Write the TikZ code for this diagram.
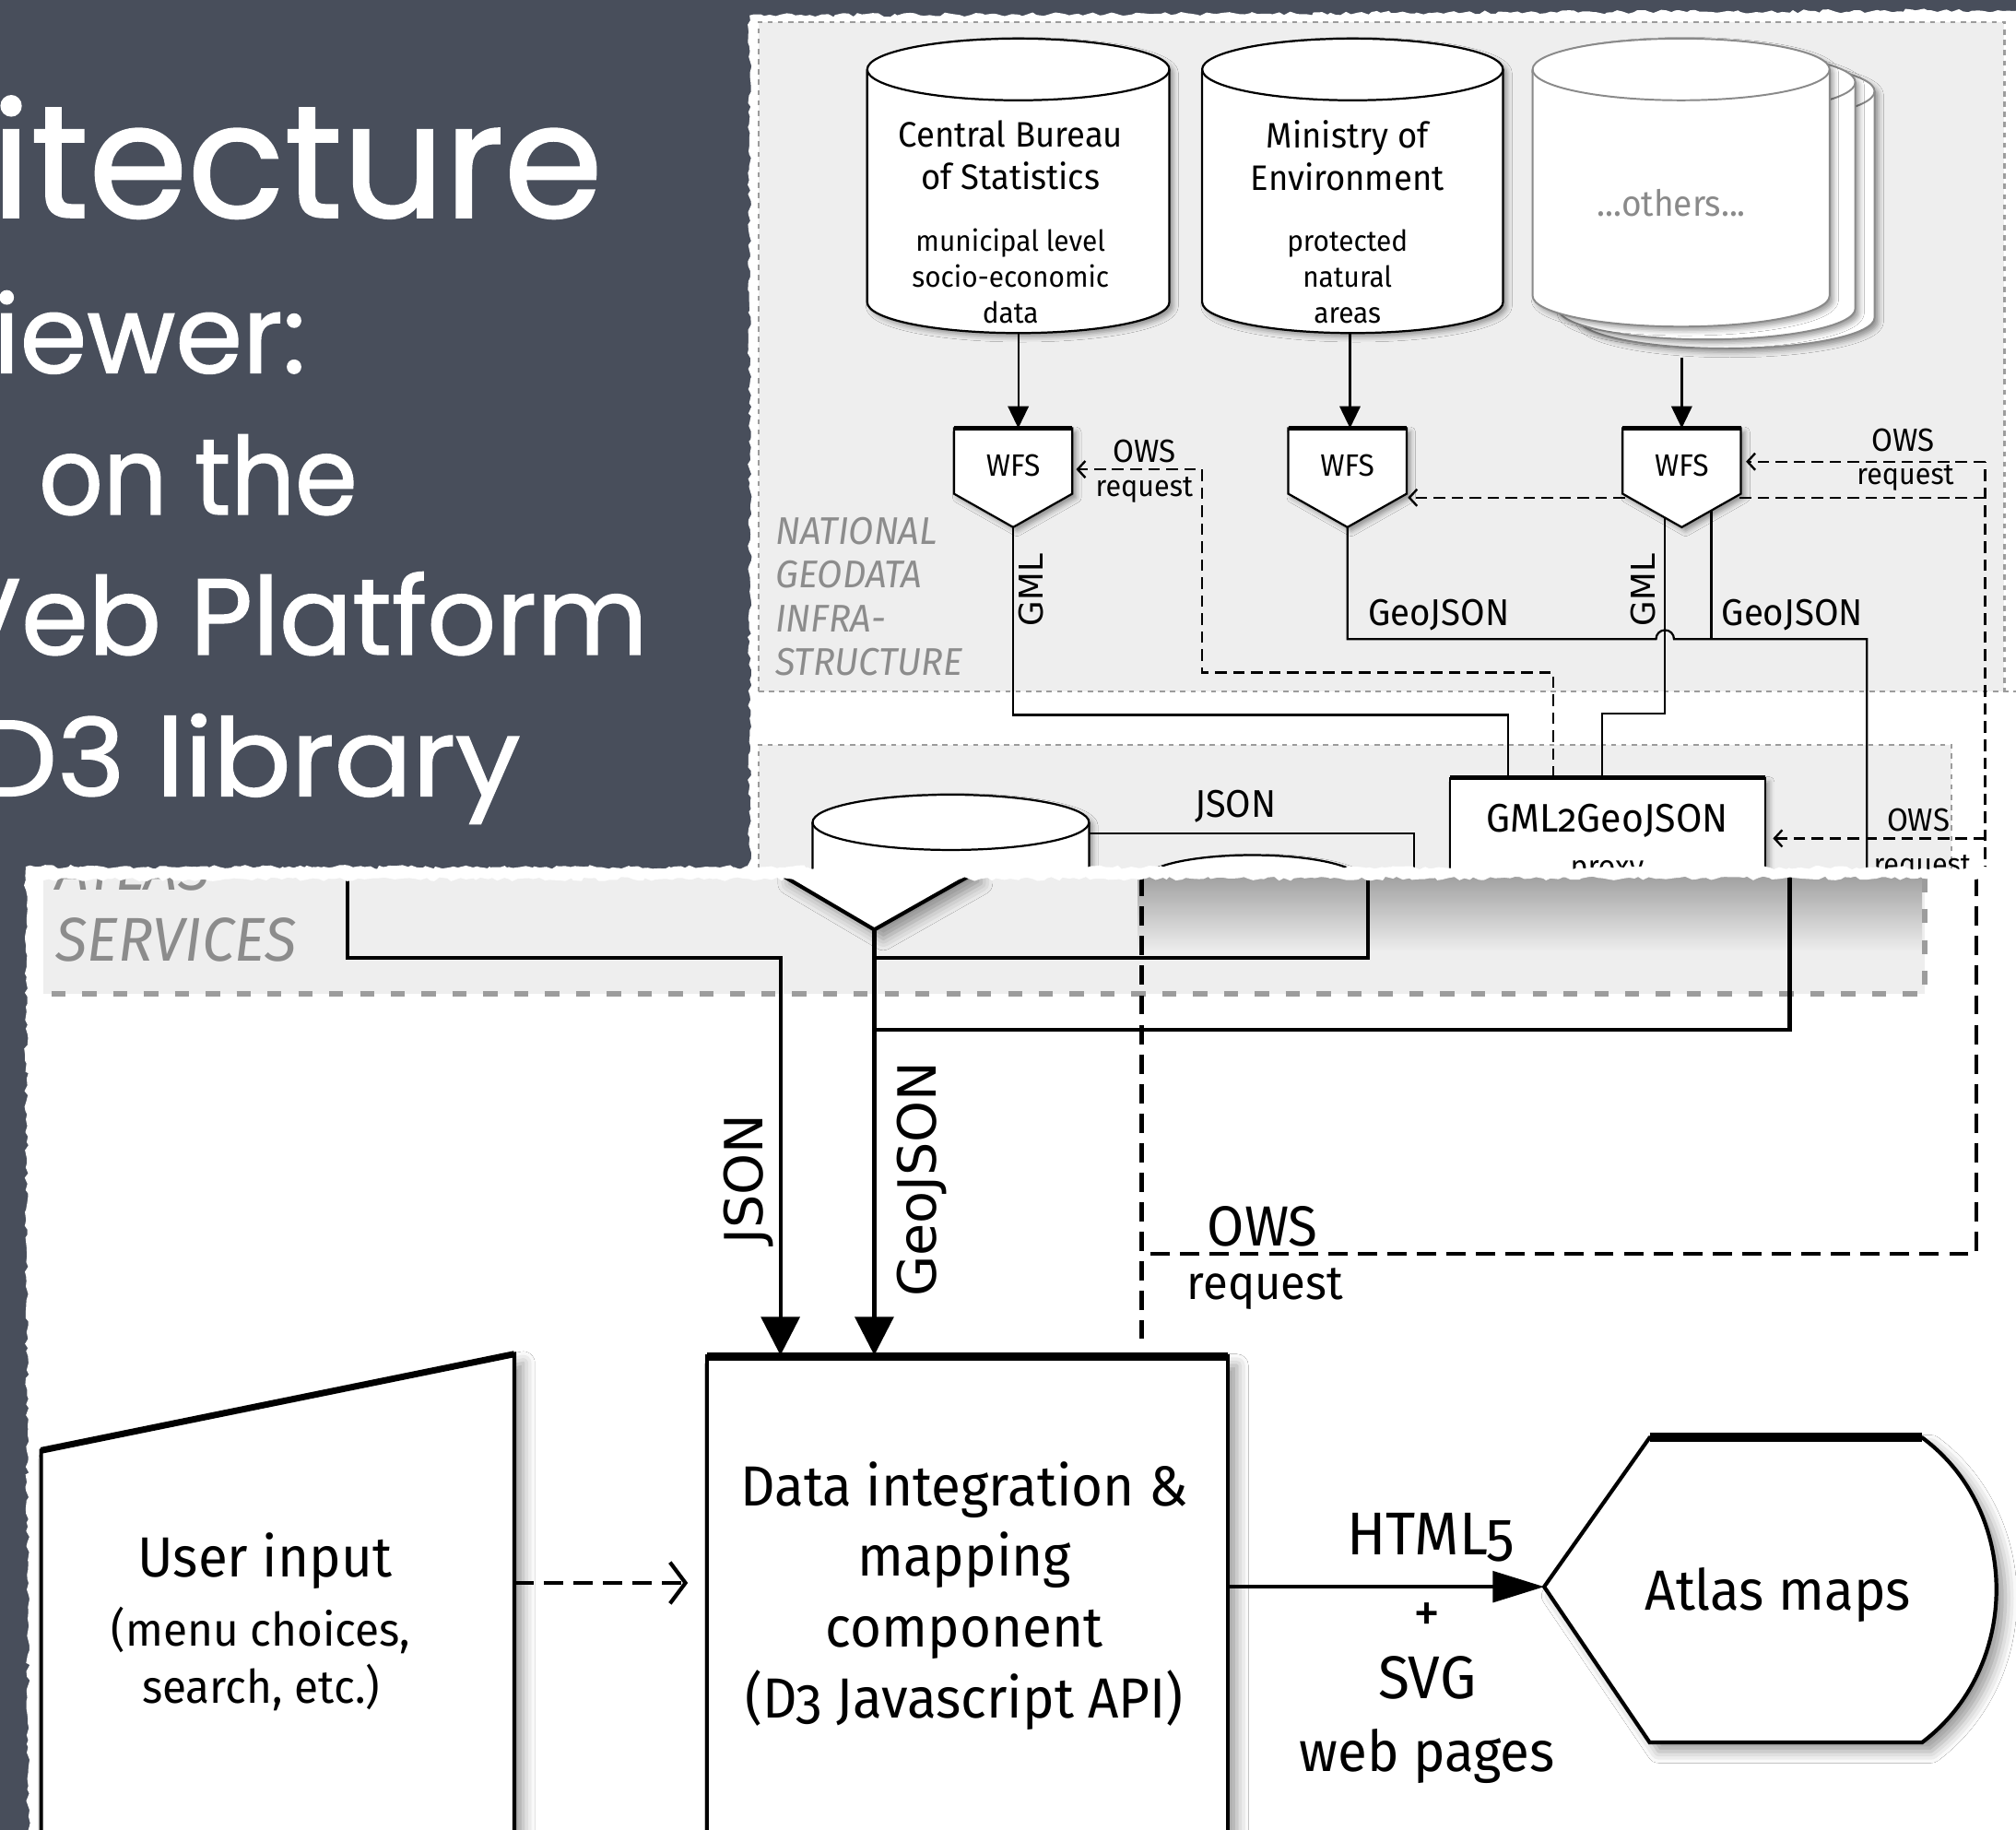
\documentclass[tikz,border=0pt]{standalone}
\usepackage{fontspec}
\setmainfont{Fira Sans}
\newfontfamily\chalk[FakeBold=1.2]{Poppins}
\newfontfamily\diag[FakeStretch=0.95,Numbers=OldStyle]{Fira Sans}
\newfontfamily\wide{DejaVu Sans}
\usetikzlibrary{arrows.meta,shadows.blur,decorations.pathmorphing}

\definecolor{slate}{HTML}{484E5B}
\definecolor{panel}{HTML}{EEEEEE}
\definecolor{rule}{HTML}{9C9C9C}
\definecolor{faint}{HTML}{8C8C8C}
\definecolor{ghost}{HTML}{8A8A8A}

\newcommand\fsz[2]{\fontsize{#1}{#2}\selectfont}

\tikzset{
  chalkline/.style={text=white, inner sep=0pt, font=\chalk\fsz{84}{90}},
  paper/.style={fill=white, decorate, decoration={random steps, segment length=4pt, amplitude=1.6pt}},
  lineA/.style={line width=1.6pt, draw=black},
  lineB/.style={line width=3pt, draw=black},
  owsA/.style={line width=1.7pt, dash pattern=on 9pt off 5pt},
  owsB/.style={line width=3pt, dash pattern=on 15pt off 8pt},
  dotbox/.style={draw=rule, line width=1.5pt, dash pattern=on 4pt off 4pt},
  dotboxB/.style={draw=rule, line width=4pt, dash pattern=on 11pt off 13pt},
  softA/.style={blur shadow={shadow xshift=3pt, shadow yshift=-3pt, shadow blur radius=4pt, shadow opacity=40}},
  softB/.style={blur shadow={shadow xshift=7pt, shadow yshift=-7pt, shadow blur radius=9pt, shadow opacity=40}},
  txtA/.style={inner sep=0pt, align=center, font=\diag\fsz{23}{26}},
  txtB/.style={inner sep=0pt, align=center, font=\diag\fsz{44}{55}},
  vlab/.style={inner sep=0pt, rotate=90},
  headA/.style={-{Triangle[length=17pt,width=16pt]}},
  headB/.style={-{Triangle[length=30pt,width=30pt]}},
  barbA/.style={-{Straight Barb[length=6pt,width=13pt,line width=1.7pt]}},
}

% database drum: centre x, top-ellipse y, bottom-ellipse y, x radius, y radius, colour, line width
\newcommand\drum[7]{%
  \filldraw[fill=white, draw=#6, line width=#7, softA]
    (#1-#4,#2) -- (#1-#4,#3)
    arc[start angle=180, end angle=0, x radius=#4, y radius=#5]
    -- (#1+#4,#2)
    arc[start angle=0, end angle=-180, x radius=#4, y radius=#5] -- cycle;
  \draw[draw=#6, line width=#7] (#1-#4,#2)
    arc[start angle=180, end angle=0, x radius=#4, y radius=#5];
}

% WFS service symbol: name, centre x
\newcommand\wfs[2]{%
  \filldraw[fill=white, lineA, softA] (#2-46,333) -- (#2+46,333) -- (#2+46,384)
    -- (#2,410) -- (#2-46,384) -- cycle;
  \draw[line width=3.4pt] (#2-46,333) -- (#2+46,333);
  \node[txtA, font=\diag\fsz{24}{26}] (#1) at (#2,362) {WFS};
  \coordinate (#1top) at (#2,333);
  \coordinate (#1tip) at (#2,410);
}

\begin{document}
\begin{tikzpicture}[x=1pt,y=-1pt]
\pgfmathsetseed{4711}
\useasboundingbox (0,0) rectangle (1568,1423);
\clip (0,0) rectangle (1568,1423);
\fill[slate] (0,0) rectangle (1568,1423);

% ---------- slide heading ----------
\node[chalkline, font=\chalk\fsz{124}{130}, anchor=base east] (head) at (469,169) {itecture};
\node[chalkline, anchor=base east] (sub1) at (238,290) {iewer:};
\node[chalkline, anchor=base west] (sub2) at (30,400) {\scalebox{0.93}[1]{on the}};
\node[chalkline, anchor=base east] (sub3) at (504,509) {Veb Platform};
\node[chalkline, anchor=base east] (sub4) at (405,619) {\scalebox{1.07}[1]{D3 library}};

% ---------- upper clipping: data infrastructure ----------
\fill[paper] (583,724) -- (583,12) -- (1575,8) -- (1575,724) -- cycle;
\begin{scope}
\clip (586,15) rectangle (1568,724);
\fill[panel] (590,17) rectangle (1559,538);
\fill[panel] (590,579) rectangle (1518,724);
\draw[dotbox] (590,538) -- (590,17) -- (1559,17) -- (1559,538);
\draw[dotbox] (590,538) -- (1568,538);
\draw[dotbox] (590,724) -- (590,579) -- (1518,579) -- (1518,724);

% OWS request paths
\coordinate (owsin) at (1208,605);
\coordinate (owsrail) at (1544,724);
\draw[owsA, barbA] (owsin) -- (1208,523) -- (935,523) -- (935,365) -- (837,365);
\draw[owsA] (owsrail) -- (1544,359);
\draw[owsA, barbA] (1544,359) -- (1358,359);
\draw[owsA, barbA] (1544,387) -- (1095,387);
\draw[owsA, barbA] (1544,652) -- (1379,652);

% data sources
\drum{1342.5}{71}{247}{115.5}{24}{ghost}{1.4pt}
\drum{1327.5}{64}{240}{115.5}{24}{ghost}{1.4pt}
\drum{1307.5}{54}{230}{115.5}{24}{ghost}{1.4pt}
\drum{792}{54}{235}{117.5}{24}{black}{1.6pt}
\drum{1052}{54}{235}{117}{24}{black}{1.6pt}

\node[txtA, font=\diag\fsz{27.5}{33}] (cbs) at (786,121) {Central Bureau\\of Statistics};
\node[txtA, font=\diag\fsz{22.5}{28}] (cbsdata) at (786,215) {municipal level\\socio-economic\\data};
\node[txtA, font=\diag\fsz{27.5}{33}] (moe) at (1048,121) {Ministry of\\Environment};
\node[txtA, font=\diag\fsz{22.5}{28}] (moedata) at (1048,215) {protected\\natural\\areas};
\node[txtA, font=\diag\fsz{28}{30}, text=ghost] (others) at (1300,158) {...others...};

\coordinate (cbsbot) at (792,259);
\coordinate (moebot) at (1050,259);
\coordinate (othbot) at (1308,278);

% WFS services
\wfs{wfsa}{788}
\wfs{wfsb}{1048}
\wfs{wfsc}{1308}

\draw[lineA, headA] (cbsbot) -- (cbsbot |- wfsatop);
\draw[lineA, headA] (moebot) -- (moebot |- wfsbtop);
\draw[lineA, headA] (othbot) -- (wfsctop);

% GML2GeoJSON proxy
\filldraw[fill=white, lineA, softA] (1128,605) rectangle (1373,740);
\draw[line width=3.4pt] (1128,605) -- (1373,605);
\node[txtA, font=\diag\fsz{31}{34}] (proxy) at (1250,638) {GML2GeoJSON};
\node[txtA, font=\diag\fsz{24}{26}] (proxysub) at (1250,678) {proxy};

% feature streams
\coordinate (gmla) at (1173,605);
\coordinate (gmlc) at (1246,605);
\draw[lineA] (wfsatip) -- (788,556) -- (1173,556) -- (gmla);
\draw[lineA] (1295,403) -- (1295,555) -- (1246,555) -- (gmlc);
\draw[lineA] (wfsbtip) -- (1048,497) -- (1288,497)
  arc[start angle=180, end angle=360, radius=7] -- (1452,497) -- (1452,724);
\draw[lineA] (1331,397) -- (1331,497);

% atlas data store
\drum{739.5}{639.5}{760}{107.5}{21.5}{black}{1.6pt}
\drum{974}{684}{780}{84}{19}{black}{1.6pt}
\draw[lineA] (847,648) -- (1100,648) -- (1100,724);

% labels
\node[anchor=west, align=left, inner sep=0pt, text=faint,
      font=\diag\itshape\fsz{30}{34}] (ngi) at (603,464) {NATIONAL\\GEODATA\\INFRA-\\STRUCTURE};
\node[vlab, font=\wide\fsz{25.5}{28}] (gmllab1) at (802,459) {GML};
\node[vlab, font=\wide\fsz{25.5}{28}] (gmllab2) at (1278,459) {GML};
\node[txtA, font=\diag\fsz{29}{30}] (geolab1) at (1119,478) {GeoJSON};
\node[txtA, font=\diag\fsz{29}{30}] (geolab2) at (1394,478) {GeoJSON};
\node[txtA, font=\diag\fsz{30}{30}] (jsonlabA) at (961,627) {JSON};
\node[txtA, font=\diag\fsz{25}{26}] (ows1) at (890,351) {OWS};
\node[txtA] (req1) at (890,381) {request};
\node[txtA, font=\diag\fsz{25}{26}] (ows2) at (1480,342) {OWS};
\node[txtA] (req2) at (1482,372) {request};
\node[txtA, font=\diag\fsz{25}{26}] (ows3) at (1492,638) {OWS};
\node[txtA] (req3) at (1495,675) {request};
\end{scope}

% ---------- lower clipping: atlas client ----------
\fill[paper] (20,675) -- (1575,676) -- (1575,1432) -- (22,1432) -- cycle;
\begin{scope}
\clip (24,680) rectangle (1568,1423);
\fill[panel] (34,680) rectangle (1497,773);
\shade[top color=black!32!panel, bottom color=panel] (885,682) rectangle (1495,740);
\draw[dotboxB] (40,773) -- (1497,773) -- (1497,682);

\node[anchor=west, inner sep=0pt, text=faint, font=\diag\itshape\fsz{48}{50}] (atl) at (43,676) {ATLAS};
\node[anchor=west, inner sep=0pt, text=faint, font=\diag\itshape\fsz{48}{50}] (srv) at (43,731) {SERVICES};

% service symbol reaching down
\filldraw[fill=white, lineB, softB] (607,650) -- (607,680) -- (680,723) -- (756,680) -- (756,650) -- cycle;
\coordinate (vtip) at (680,723);

% components
\filldraw[fill=white, lineB, softB] (32,1128) -- (400,1053) -- (400,1445) -- (32,1445) -- cycle;
\draw[line width=5pt] (32,1128) -- (400,1053);
\filldraw[fill=white, lineB, softB] (550,1055) rectangle (955,1445);
\draw[line width=7pt] (550,1055) -- (955,1055);
\filldraw[fill=white, lineB, softB] (1201,1234) -- (1283,1118) -- (1495,1118)
  .. controls (1572,1175) and (1572,1297) .. (1495,1355) -- (1283,1355) -- cycle;
\draw[line width=7pt] (1283,1118) -- (1495,1118);

\node[txtB] (user) at (206,1214) {User input};
\node[txtB, font=\diag\fsz{36}{44}] (usersub) at (203,1290) {(menu choices,\\search, etc.)};
\node[txtB] (d3) at (750,1241) {Data integration \&\\mapping\\component\\(D3 Javascript API)};
\node[txtB] (atlas) at (1383,1240) {Atlas maps};

\coordinate (jsonin) at (607,1054);
\coordinate (geoin) at (680,1054);
\coordinate (atlasin) at (1201,1234);

% flows
\draw[lineB, headB] (270,682) -- (270,745) -- (607,745) -- (jsonin);
\draw[lineB, headB] (vtip) -- (geoin);
\draw[lineB] (680,745) -- (1064,745) -- (1064,682);
\draw[lineB] (680,801) -- (1392,801) -- (1392,682);
\draw[owsB] (888,682) -- (888,1041);
\draw[owsB] (1537,682) -- (1537,975) -- (888,975);
\draw[owsB, -{Straight Barb[length=12pt,width=32pt,line width=3pt]}] (400,1231) -- (535,1231);
\draw[lineB, -{Triangle[length=40pt,width=24pt]}] (955,1234) -- (atlasin);

\node[vlab, font=\wide\fsz{41}{44}] (jsonlabB) at (582,917) {JSON};
\node[vlab, font=\wide\fsz{41}{44}] (geolabB) at (717,917) {GeoJSON};
\node[txtB] (owsB) at (982,954) {OWS};
\node[txtB, font=\diag\fsz{37}{40}] (reqB) at (984,1002) {request};
\node[txtB, font=\diag\fsz{47}{50}] (html) at (1113,1196) {HTML5};
\node[txtB] (plus) at (1110,1258) {+};
\node[txtB, font=\diag\fsz{47}{50}] (svg) at (1110,1305) {SVG};
\node[txtB] (web) at (1110,1366) {web pages};
\end{scope}
\fill[paper] (20,674) -- (1575,675) -- (1575,683) -- (20,684) -- cycle;
\end{tikzpicture}
\end{document}
